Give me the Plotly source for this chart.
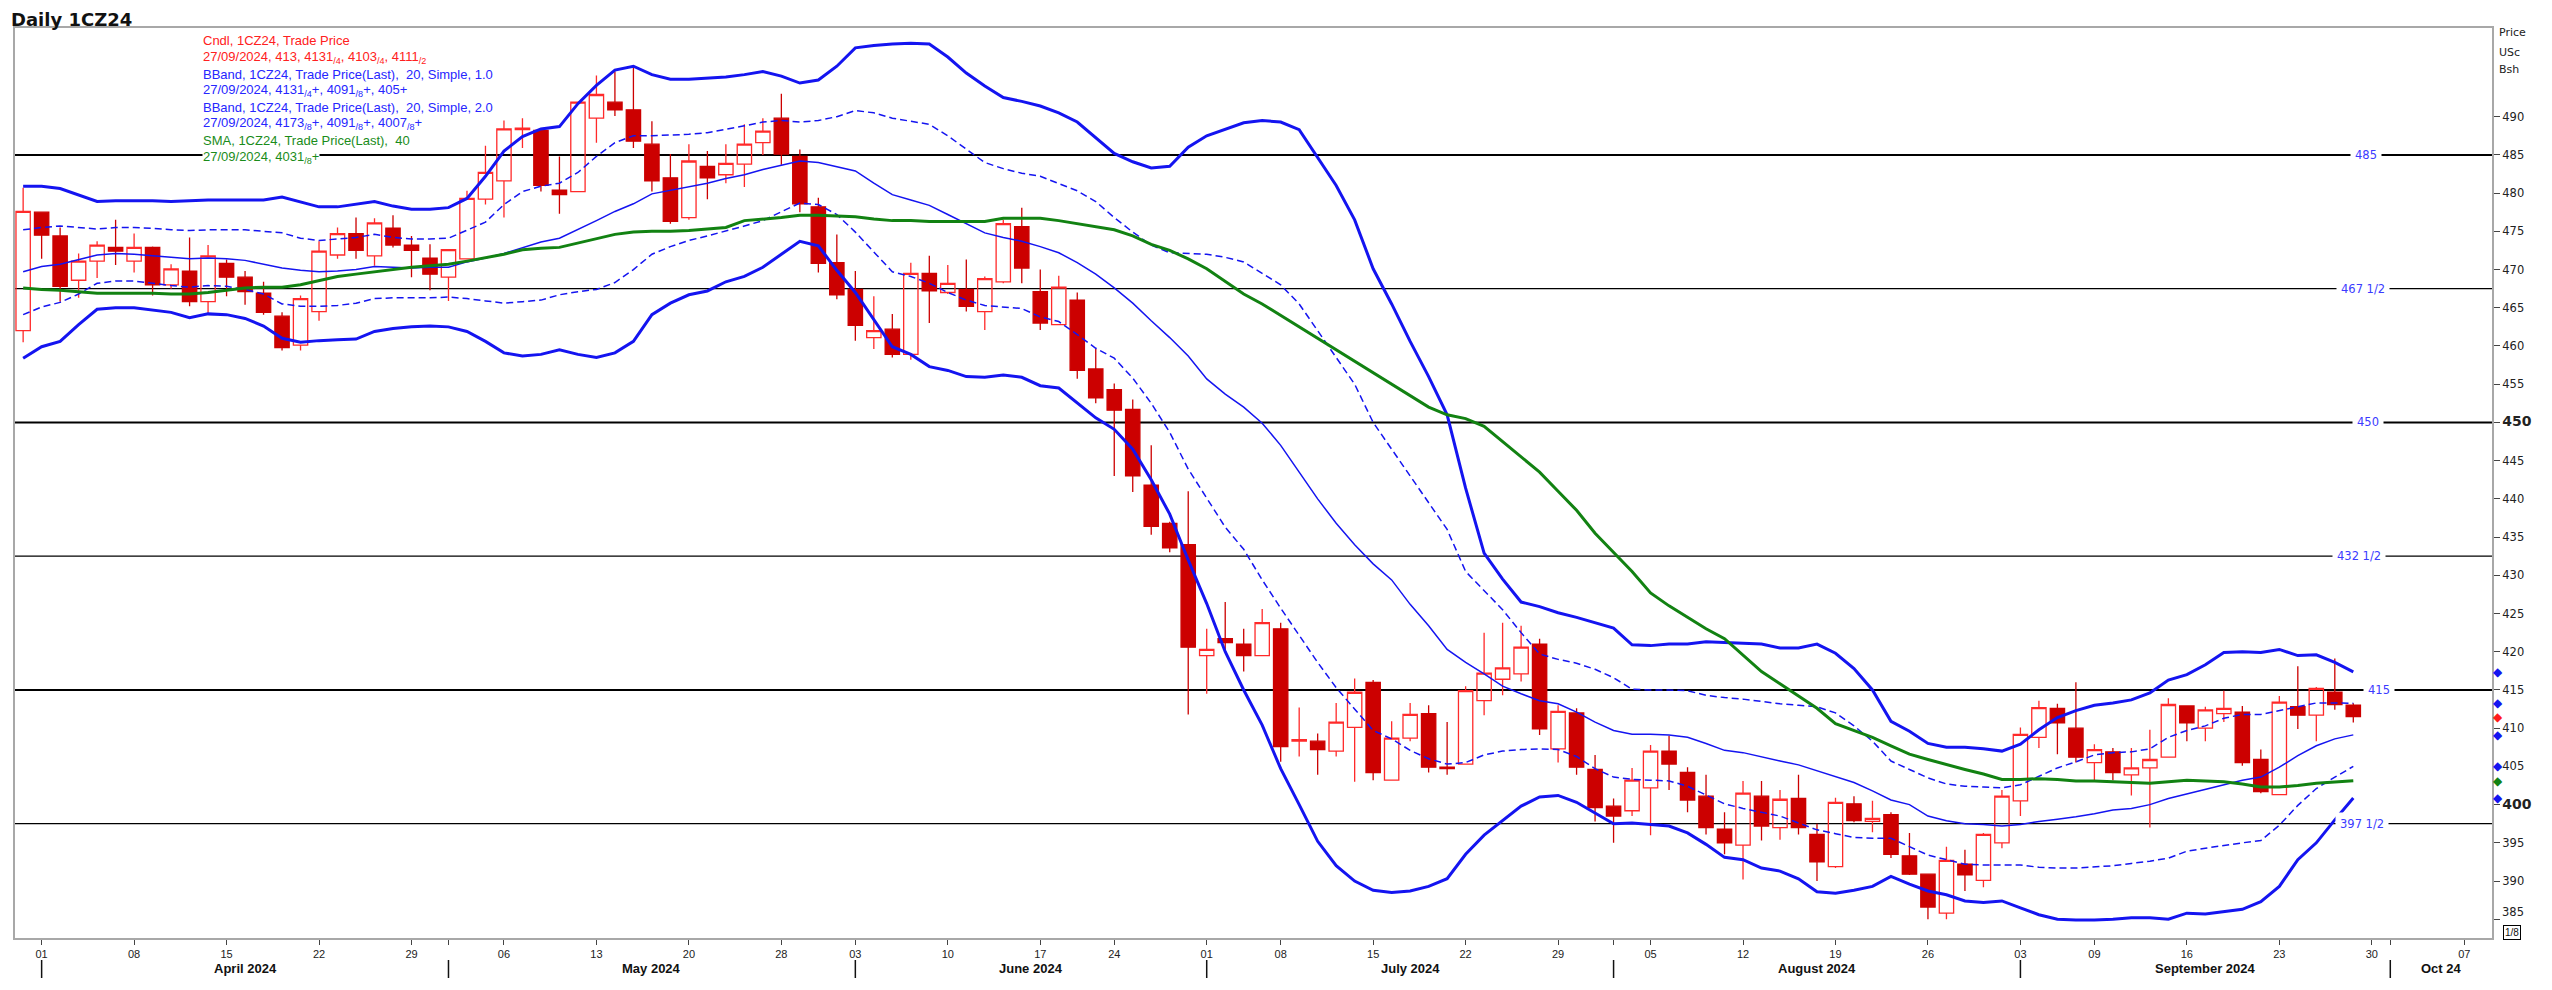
import pandas as pd
import plotly.graph_objects as go

# ---------------- data ----------------
holidays = ["2024-03-29", "2024-05-27", "2024-06-19", "2024-07-04", "2024-09-02"]
dates = [d.strftime("%Y-%m-%d") for d in pd.bdate_range("2024-03-28", "2024-09-27", freq="C", holidays=holidays)]
axis_dates = [d.strftime("%Y-%m-%d") for d in pd.bdate_range("2024-03-28", "2024-10-09", freq="C", holidays=holidays)]

open_ = [462.0,
    477.5, 474.4, 468.6, 471.1, 472.9, 471.1, 472.9, 468.0, 469.8, 465.8, 470.8, 469.0, 466.9, 463.9, 460.1, 464.5, 471.9, 474.7, 471.8, 475.4, 473.2, 471.5,
    469.0, 471.4, 479.2, 481.6, 488.3, 488.2, 480.4, 480.2, 489.8, 491.9, 490.9, 486.4, 482.0, 476.8, 483.5, 482.4, 483.8, 486.6, 489.8, 484.8, 478.2, 470.9,
    467.4, 461.1, 462.2, 458.9, 469.5, 467.0, 467.4, 464.5, 468.4, 475.6, 467.1, 462.8, 466.0, 457.0, 454.3, 451.7, 441.8, 436.8, 434.0,
    419.5, 421.7, 421.0, 419.5, 423.0, 408.3, 408.3, 407.0, 410.1, 416.0, 403.2, 408.7, 411.9, 404.9, 405.3, 413.6, 416.4, 417.1, 421.0, 407.3, 412.0, 404.6,
    399.8, 399.2, 402.2, 407.0, 404.2, 401.1, 396.8, 394.7, 401.1, 397.0, 400.8, 396.1, 391.9, 400.1, 397.8, 398.7, 393.3, 390.9, 385.8, 392.2, 390.1, 395.0,
    400.5, 408.8, 412.6, 410.0, 405.5, 406.9, 403.9, 404.8, 406.2, 412.9, 410.0, 411.9, 412.1, 405.9, 401.3, 412.8, 411.7, 414.7, 413.0]
high = [480.7,
    477.6, 475.5, 472.1, 473.7, 476.5, 474.7, 473.0, 470.7, 474.2, 473.2, 471.3, 469.8, 468.4, 464.4, 466.6, 473.7, 475.5, 476.8, 476.7, 477.1, 474.4, 473.3,
    472.7, 480.3, 486.2, 489.5, 489.8, 488.4, 484.8, 492.0, 495.4, 495.9, 496.6, 489.4, 485.1, 486.4, 485.5, 486.4, 489.0, 489.8, 493.0, 485.7, 479.4, 474.6,
    469.8, 466.5, 464.2, 470.9, 471.8, 470.6, 471.3, 469.1, 476.5, 478.1, 470.0, 469.2, 467.0, 459.6, 455.1, 453.0, 447.0, 437.0, 441.0,
    423.0, 426.5, 423.0, 425.6, 423.8, 412.7, 409.3, 413.3, 416.5, 416.3, 410.9, 413.3, 413.0, 410.8, 415.5, 422.5, 423.8, 423.4, 421.7, 413.0, 412.6, 406.5,
    400.8, 404.8, 407.8, 409.0, 404.9, 403.9, 399.0, 403.1, 403.1, 401.9, 403.9, 397.5, 400.9, 401.1, 400.5, 399.0, 396.3, 390.9, 394.5, 394.1, 396.3, 401.9,
    410.1, 413.6, 413.2, 416.0, 407.9, 407.4, 407.4, 409.8, 413.9, 412.9, 412.8, 414.9, 412.9, 407.2, 414.2, 418.1, 415.4, 419.1, 413.25]
low = [460.5,
    471.4, 465.8, 466.3, 468.9, 470.6, 469.6, 466.6, 467.5, 465.2, 464.2, 466.5, 465.4, 464.1, 459.4, 459.4, 463.3, 471.4, 471.4, 470.5, 472.9, 469.0, 467.3,
    465.9, 471.4, 478.5, 476.8, 485.9, 480.2, 477.3, 480.1, 486.6, 490.1, 485.9, 480.2, 476.0, 476.5, 479.2, 481.3, 480.8, 485.0, 483.7, 477.5, 469.6, 466.1,
    460.7, 459.6, 458.5, 458.2, 463.0, 466.8, 464.5, 462.1, 468.2, 468.2, 462.1, 462.8, 455.7, 452.5, 443.0, 440.9, 435.3, 433.0, 411.8,
    414.5, 420.2, 417.4, 419.4, 405.6, 406.3, 403.9, 406.3, 403.0, 403.2, 403.2, 408.3, 404.2, 403.9, 405.3, 411.7, 414.3, 416.1, 409.1, 405.5, 403.9, 397.8,
    395.0, 398.5, 396.0, 401.9, 399.0, 396.1, 393.5, 390.2, 395.3, 395.4, 396.1, 390.0, 391.7, 397.7, 396.4, 393.0, 390.8, 385.0, 385.0, 388.7, 389.2, 394.3,
    398.5, 407.4, 406.6, 405.5, 403.2, 403.2, 401.2, 397.0, 406.2, 408.3, 408.3, 410.8, 405.1, 401.5, 401.3, 409.9, 408.3, 412.4, 410.75]
close = [477.6,
    474.5, 467.8, 471.1, 473.2, 472.4, 472.9, 468.0, 470.1, 465.8, 471.8, 469.0, 467.1, 464.4, 459.8, 466.2, 472.4, 474.7, 472.5, 476.1, 473.2, 472.5, 469.4,
    472.6, 479.3, 482.7, 488.4, 488.5, 481.0, 479.8, 491.9, 492.9, 490.9, 486.8, 481.6, 476.3, 484.2, 482.0, 483.9, 486.4, 488.1, 485.1, 478.6, 470.8, 466.7,
    462.7, 462.0, 458.9, 469.5, 467.2, 468.2, 465.2, 468.8, 476.0, 470.2, 463.0, 467.7, 456.8, 453.2, 451.6, 443.0, 436.4, 433.6, 420.6,
    420.3, 421.2, 419.5, 423.8, 407.6, 408.5, 407.2, 410.8, 414.7, 404.2, 408.7, 411.8, 404.9, 404.7, 414.9, 417.2, 417.9, 420.6, 409.9, 412.2, 404.9, 399.6,
    398.5, 403.2, 407.0, 405.3, 400.6, 397.0, 395.0, 401.5, 397.2, 400.7, 397.0, 392.5, 400.3, 397.9, 398.2, 393.5, 390.9, 386.6, 392.7, 390.8, 396.1, 401.1,
    409.2, 412.7, 410.7, 406.2, 407.2, 404.2, 404.8, 405.9, 413.1, 410.7, 412.4, 412.6, 405.5, 401.7, 413.4, 411.7, 415.2, 413.1, 411.5]

bb2_upper = [480.9,
    480.9, 480.6, 479.8, 478.9, 479.0, 479.0, 479.0, 478.9, 479.0, 479.1, 479.1, 479.1, 479.1, 479.5, 478.8, 478.2, 478.2, 478.5, 478.9, 478.3, 477.9, 477.9,
    478.1, 479.3, 482.2, 485.5, 487.4, 488.4, 488.7, 491.7, 494.1, 496.1, 496.6, 495.5, 494.9, 494.9, 495.1, 495.2, 495.5, 495.9, 495.3, 494.4, 494.8, 496.6,
    499.0, 499.3, 499.5, 499.6, 499.5, 497.8, 495.7, 494.0, 492.5, 492.0, 491.4, 490.5, 489.3, 487.2, 485.2, 484.1, 483.3, 483.5, 486.0,
    487.5, 488.3, 489.2, 489.5, 489.3, 488.3, 484.6, 481.0, 476.5, 470.1, 465.5, 460.6, 456.0, 451.0, 441.4, 432.9, 429.5, 426.5, 425.9, 425.1, 424.5, 423.8,
    423.1, 420.9, 420.8, 421.0, 421.0, 421.3, 421.2, 421.1, 421.0, 420.5, 420.5, 421.0, 419.8, 417.8, 415.0, 410.9, 409.6, 408.0, 407.5, 407.5, 407.3, 407.0,
    407.9, 409.8, 411.4, 412.3, 413.0, 413.3, 413.7, 414.6, 416.3, 417.0, 418.3, 419.9, 420.0, 419.9, 420.3, 419.5, 419.6, 418.6, 417.375]
bb1_upper = [475.2,
    475.5, 475.7, 475.5, 475.3, 475.5, 475.5, 475.4, 475.2, 475.1, 475.2, 475.2, 475.2, 475.0, 474.8, 474.1, 473.8, 474.0, 474.2, 474.6, 474.2, 474.0, 474.0,
    474.1, 475.2, 476.2, 478.5, 480.2, 480.9, 481.3, 482.7, 484.8, 486.6, 487.5, 487.5, 487.6, 487.7, 487.9, 488.3, 488.8, 489.3, 489.5, 489.3, 489.5, 490.0,
    490.8, 490.5, 489.8, 489.4, 489.0, 487.5, 485.8, 484.0, 483.2, 482.6, 482.2, 481.3, 480.3, 478.9, 476.8, 474.9, 473.2, 472.2, 472.1,
    472.0, 471.6, 471.0, 469.5, 468.0, 465.5, 462.0, 458.5, 455.0, 450.0, 446.5, 443.0, 439.5, 436.0, 430.5, 428.0, 425.5, 422.5, 419.7, 419.0, 418.5, 417.7,
    416.6, 415.1, 415.0, 415.0, 414.9, 414.3, 414.0, 413.8, 413.5, 413.2, 413.0, 412.8, 412.0, 410.3, 408.3, 405.7, 404.6, 403.5, 402.7, 402.4, 402.3, 402.2,
    402.6, 403.7, 404.8, 405.6, 406.5, 406.8, 406.9, 407.3, 408.8, 409.7, 410.3, 411.3, 411.8, 411.8, 412.3, 412.8, 413.3, 413.3, 413.25]
bb_mid = [469.7,
    470.4, 470.7, 471.3, 471.9, 472.1, 472.0, 471.8, 471.6, 471.4, 471.5, 471.4, 471.2, 470.7, 470.2, 469.9, 469.7, 469.8, 470.0, 470.4, 470.3, 470.2, 470.3,
    470.3, 471.0, 471.5, 472.1, 472.9, 473.6, 474.1, 475.2, 476.4, 477.6, 478.6, 479.9, 480.4, 480.9, 481.3, 481.9, 482.4, 483.1, 483.7, 484.2, 484.0, 483.4,
    482.9, 481.3, 479.8, 479.1, 478.4, 477.2, 476.0, 474.8, 474.2, 473.7, 473.0, 472.2, 470.9, 469.4, 467.6, 465.6, 463.3, 461.1, 458.7,
    455.7, 453.7, 452.0, 449.9, 447.0, 443.5, 440.0, 436.8, 434.0, 431.5, 429.4, 426.2, 423.4, 420.3, 418.6, 417.1, 415.5, 414.5, 413.6, 413.2, 412.1, 410.8,
    409.7, 409.2, 409.2, 409.1, 408.8, 408.0, 407.1, 406.8, 406.3, 405.7, 405.2, 404.4, 403.7, 402.9, 401.8, 400.6, 400.0, 398.5, 397.9, 397.5, 397.4, 397.2,
    397.4, 397.8, 398.1, 398.4, 398.8, 399.3, 399.5, 400.0, 400.8, 401.4, 402.1, 402.7, 403.2, 403.6, 404.9, 406.4, 407.7, 408.6, 409.125]
bb1_lower = [464.1,
    465.1, 465.7, 466.8, 468.2, 468.5, 468.5, 468.2, 467.9, 467.7, 467.9, 467.8, 467.4, 466.8, 465.5, 465.2, 465.2, 465.3, 465.6, 466.2, 466.3, 466.3, 466.3,
    466.4, 466.2, 465.9, 465.6, 465.8, 466.0, 466.7, 467.1, 467.4, 468.3, 470.0, 472.0, 473.0, 473.8, 474.4, 475.0, 475.7, 476.4, 477.6, 478.7, 478.5, 477.2,
    474.9, 472.3, 469.7, 469.1, 468.2, 467.0, 466.0, 465.3, 465.1, 464.9, 463.8, 463.2, 461.5, 459.7, 458.4, 455.8, 452.5, 448.7, 443.9,
    440.1, 436.3, 433.4, 429.4, 425.7, 422.2, 418.6, 415.3, 412.5, 409.7, 408.6, 407.1, 406.0, 405.3, 405.5, 406.5, 407.0, 407.2, 407.3, 407.2, 406.3, 404.7,
    403.6, 403.3, 403.2, 403.1, 402.4, 401.3, 400.1, 399.5, 399.0, 398.5, 397.6, 396.7, 396.2, 395.7, 395.6, 395.6, 394.5, 393.4, 392.8, 392.2, 392.1, 392.1,
    392.1, 391.8, 391.7, 391.7, 391.8, 392.0, 392.3, 392.6, 393.0, 393.9, 394.3, 394.7, 395.0, 395.3, 397.3, 399.9, 402.1, 403.6, 405.0]
bb2_lower = [458.4,
    459.9, 460.6, 462.8, 464.8, 465.0, 465.0, 464.7, 464.4, 463.7, 464.2, 464.1, 463.6, 462.6, 461.0, 460.5, 460.7, 460.8, 460.9, 461.9, 462.3, 462.5, 462.6,
    462.5, 461.9, 460.6, 459.1, 458.7, 458.9, 459.5, 458.9, 458.5, 459.1, 460.6, 464.1, 465.6, 466.7, 467.2, 468.4, 469.1, 470.3, 472.0, 473.7, 473.1, 469.9,
    467.0, 463.4, 459.9, 458.9, 457.3, 456.8, 456.0, 455.9, 456.2, 455.9, 454.8, 454.5, 452.5, 450.6, 449.1, 446.5, 442.5, 438.0, 432.0,
    426.3, 420.0, 415.0, 410.4, 404.7, 400.0, 395.2, 392.0, 390.0, 388.8, 388.5, 388.7, 389.3, 390.3, 393.5, 396.0, 397.9, 399.8, 401.0, 401.2, 400.3, 398.9,
    397.5, 397.6, 397.4, 397.2, 396.3, 394.8, 393.1, 392.8, 391.7, 391.3, 390.3, 388.6, 388.4, 388.8, 389.3, 390.6, 389.6, 388.7, 388.2, 387.4, 387.2, 387.4,
    386.5, 385.6, 385.0, 384.9, 384.9, 385.0, 385.2, 385.2, 385.0, 385.8, 385.7, 386.0, 386.3, 387.3, 389.3, 392.8, 395.0, 398.0, 400.875]
sma40 = [467.6,
    467.4, 467.3, 467.1, 466.9, 466.9, 466.9, 466.9, 466.8, 466.8, 467.0, 467.3, 467.6, 467.7, 467.7, 468.0, 468.6, 469.1, 469.4, 469.7, 470.0, 470.3, 470.5,
    470.7, 471.1, 471.5, 472.0, 472.6, 472.8, 472.9, 473.5, 474.1, 474.6, 474.9, 475.0, 475.0, 475.1, 475.3, 475.5, 476.4, 476.6, 476.8, 477.1, 477.1, 477.0,
    476.9, 476.6, 476.4, 476.4, 476.3, 476.3, 476.3, 476.3, 476.7, 476.7, 476.7, 476.4, 476.0, 475.7, 475.2, 474.4, 473.3, 472.5, 471.4,
    470.1, 468.4, 466.8, 465.5, 464.0, 462.5, 461.0, 459.5, 458.0, 456.5, 455.0, 453.5, 452.0, 451.0, 450.5, 449.5, 447.5, 445.5, 443.5, 441.0, 438.5, 435.5,
    433.0, 430.5, 427.7, 426.0, 424.5, 423.0, 421.7, 419.6, 417.4, 415.8, 414.2, 412.6, 410.6, 409.7, 408.8, 407.7, 406.6, 405.9, 405.3, 404.6, 404.0, 403.3,
    403.3, 403.4, 403.3, 403.1, 403.1, 403.0, 402.9, 402.8, 403.0, 403.2, 403.1, 403.0, 402.7, 402.3, 402.3, 402.5, 402.8, 403.0, 403.125]

level_values = [485, 467.5, 450, 432.5, 415, 397.5]
level_labels = ["485", "467 1/2", "450", "432 1/2", "415", "397 1/2"]
y_ticks = list(range(385, 491, 5))
month_names = ["April 2024", "May 2024", "June 2024", "July 2024", "August 2024", "September 2024", "Oct 24"]
legend_lines = [
    ("Cndl, 1CZ24, Trade Price", "#ff2020"),
    ("27/09/2024, 413, 4131<sub>/4</sub>, 4103<sub>/4</sub>, 4111<sub>/2</sub>", "#ff2020"),
    ("BBand, 1CZ24, Trade Price(Last),  20, Simple, 1.0", "#2626ff"),
    ("27/09/2024, 4131<sub>/4</sub>+, 4091<sub>/8</sub>+, 405+", "#2626ff"),
    ("BBand, 1CZ24, Trade Price(Last),  20, Simple, 2.0", "#2626ff"),
    ("27/09/2024, 4173<sub>/8</sub>+, 4091<sub>/8</sub>+, 4007<sub>/8</sub>+", "#2626ff"),
    ("SMA, 1CZ24, Trade Price(Last),  40", "#1a8c1a"),
    ("27/09/2024, 4031<sub>/8</sub>+", "#1a8c1a"),
]

# ---------------- geometry (reference page pixels; page body has an 8px margin) ----------------
OFF = 8
W, H = 2552 - OFF, 990 - OFF
PL, PR, PT, PB = 13, 2492, 28, 938          # plot box in reference pixels
def px(x):
    return (x - PL) / (PR - PL)
def py(y):
    return (PB - y) / (PB - PT)

BLUE = "#1414f0"
SANS = "Liberation Sans, Arial"
WIDE = "DejaVu Sans, Verdana, sans-serif"
fig = go.Figure()

fig.add_trace(go.Candlestick(
    x=dates, open=open_, high=high, low=low, close=close,
    increasing=dict(line=dict(color="#ff2a2a", width=1.3), fillcolor="rgba(255,255,255,0)"),
    decreasing=dict(line=dict(color="#cc0000", width=1.3), fillcolor="#cc0000"),
    whiskerwidth=0, hoverinfo="skip", showlegend=False))

for ys, wdt, dash in [(bb2_upper, 3, "solid"), (bb2_lower, 3, "solid"),
                      (bb1_upper, 1.5, "7px,4px"), (bb1_lower, 1.5, "7px,4px"),
                      (bb_mid, 1.5, "solid")]:
    fig.add_trace(go.Scatter(x=dates, y=ys, mode="lines",
                             line=dict(color=BLUE, width=wdt, dash=dash),
                             hoverinfo="skip", showlegend=False))
fig.add_trace(go.Scatter(x=dates, y=sma40, mode="lines",
                         line=dict(color="#128212", width=3),
                         hoverinfo="skip", showlegend=False))

# ---------------- x ticks ----------------
week_ticks = []
prev = None
for d in axis_dates:
    wk = pd.Timestamp(d).isocalendar()[1]
    if wk != prev:
        week_ticks.append(d)
        prev = wk
week_ticks = week_ticks[1:]
month_first = []
prevm = None
for d in axis_dates:
    m = d[:7]
    if m != prevm:
        month_first.append(d)
        prevm = m
month_first = month_first[1:]
tickvals = week_ticks + [d for d in month_first if d not in week_ticks]
ticktext = [d[8:10] for d in week_ticks] + [" " for d in month_first if d not in week_ticks]

x_range = [-0.44, 133.5]
shapes = []
annotations = []

sep_idx = [axis_dates.index(d) for d in month_first]
for i, name in enumerate(month_names):
    x0 = sep_idx[i]
    x1 = sep_idx[i + 1] if i + 1 < len(sep_idx) else x_range[1]
    shapes.append(dict(type="line", xref="x", yref="paper", x0=x0, x1=x0,
                       y0=py(960), y1=py(978), line=dict(color="#111", width=1.5)))
    annotations.append(dict(x=(x0 + x1) / 2, y=py(968), xref="x", yref="paper", text="<b>" + name + "</b>",
                            showarrow=False, xanchor="center", yanchor="middle",
                            font=dict(family="Liberation Sans Narrow, " + SANS, size=13, color="#111")))

lw = {485: 2, 450: 2, 415: 2}
label_x = [2366, 2363, 2368, 2359, 2379, 2362]
for v, lab, lx in zip(level_values, level_labels, label_x):
    shapes.append(dict(type="line", xref="paper", yref="y", x0=0, x1=1, y0=v, y1=v, layer="below",
                       line=dict(color="#000", width=lw.get(v, 1.3))))
    annotations.append(dict(x=px(lx), y=v, xref="paper", yref="y", text=lab, showarrow=False,
                            xanchor="center", yanchor="middle", bgcolor="white", borderpad=4,
                            font=dict(family=WIDE, size=11.5, color="#3b3bff")))

# last-value markers just right of the plot box
last_vals = [bb2_upper[-1], bb1_upper[-1], bb_mid[-1], bb1_lower[-1], bb2_lower[-1], close[-1], sma40[-1]]
last_cols = [BLUE, BLUE, BLUE, BLUE, BLUE, "#ff1a1a", "#128212"]
for v, c in zip(last_vals, last_cols):
    annotations.append(dict(x=px(2498), y=v, xref="paper", yref="y", text="\u25c6", showarrow=False,
                            xanchor="center", yanchor="middle", borderpad=0,
                            font=dict(family="DejaVu Sans", size=12, color=c)))

annotations.append(dict(x=px(8), y=py(8), xref="paper", yref="paper", text="<b>Daily 1CZ24</b>",
                        showarrow=False, xanchor="left", yanchor="top", borderpad=0,
                        font=dict(family=WIDE, size=18, color="#111")))
for k, (txt, col) in enumerate(legend_lines):
    annotations.append(dict(x=px(200), y=py(40.7 + 16.65 * k), xref="paper", yref="paper", text=txt,
                            showarrow=False, xanchor="left", yanchor="middle", bgcolor="white", borderpad=0,
                            font=dict(family=SANS, size=13, color=col)))
for txt, yy in [("Price", 33), ("USc", 52), ("Bsh", 70)]:
    annotations.append(dict(x=px(2497), y=py(yy), xref="paper", yref="paper", text=txt, showarrow=False,
                            xanchor="left", yanchor="middle",
                            font=dict(family=WIDE, size=11, color="#222")))
# 385 label sits a little above its tick in the reference (room for the 1/8 box)
annotations.append(dict(x=px(2500), y=py(912), xref="paper", yref="paper", text="385", showarrow=False,
                        xanchor="left", yanchor="middle",
                        font=dict(family=WIDE, size=11.5, color="#222")))
annotations.append(dict(x=px(2512), y=py(932), xref="paper", yref="paper", text="1/8", showarrow=False,
                        xanchor="center", yanchor="middle",
                        bordercolor="#000", borderwidth=1, borderpad=1, bgcolor="white",
                        font=dict(family=SANS, size=10, color="#111")))

y_text = []
for v in y_ticks:
    if v in (400, 450):
        y_text.append('<span style="font-size:14px"><b>%d</b></span>' % v)
    elif v == 385:
        y_text.append(" ")
    else:
        y_text.append(str(v))

fig.update_layout(
    width=W, height=H,
    margin=dict(l=PL - OFF, r=(W + OFF) - PR, t=PT - OFF, b=(H + OFF) - PB),
    paper_bgcolor="white", plot_bgcolor="white",
    showlegend=False, boxgap=0.12, boxgroupgap=0.12,
    xaxis=dict(type="category", categoryorder="array", categoryarray=axis_dates, range=x_range,
               tickvals=tickvals, ticktext=ticktext, tickangle=0,
               ticks="outside", ticklen=5, tickcolor="#444", tickwidth=1,
               showgrid=False, zeroline=False, showline=True, mirror=True,
               linecolor="#a8a8a8", linewidth=2, rangeslider=dict(visible=False),
               tickfont=dict(family="Liberation Sans Narrow, " + SANS, size=11, color="#222")),
    yaxis=dict(side="right", range=[382.55, 501.6], tickvals=y_ticks, ticktext=y_text,
               ticks="outside", ticklen=6, tickcolor="#444", tickwidth=1,
               showgrid=False, zeroline=False, showline=True, mirror=True,
               linecolor="#a8a8a8", linewidth=2,
               tickfont=dict(family=WIDE, size=11.5, color="#222")),
    shapes=shapes, annotations=annotations,
)

fig.write_html("out.html")
